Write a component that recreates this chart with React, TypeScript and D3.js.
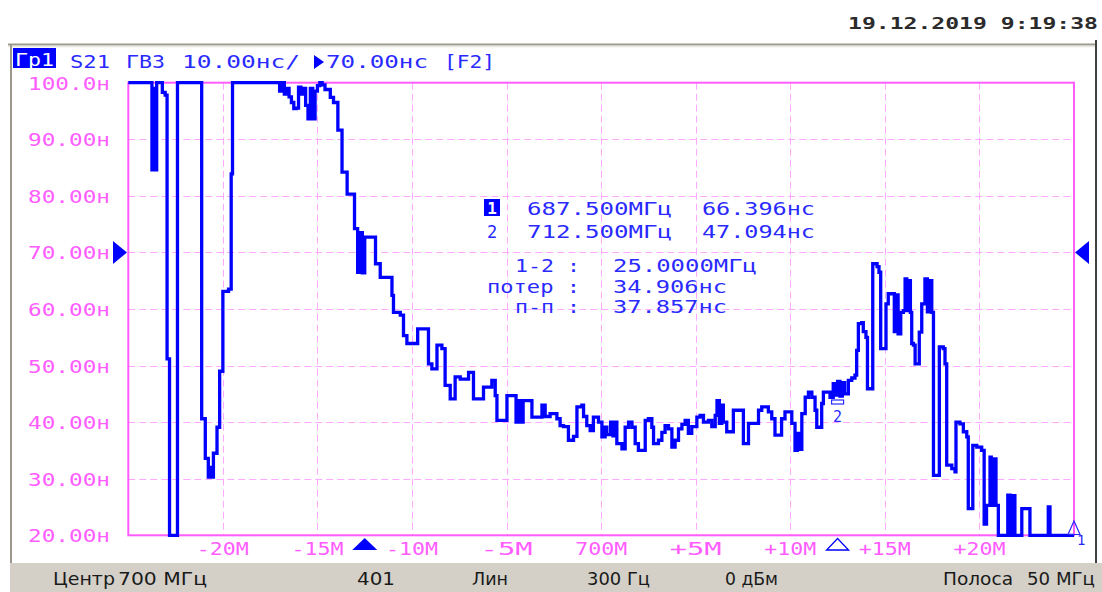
import { useEffect, useRef } from "react";
import * as d3 from "d3";

// Group delay axis (ns)
const yTicks = [100, 90, 80, 70, 60, 50, 40, 30, 20];
const yTickLabels = ["100.0н", "90.00н", "80.00н", "70.00н", "60.00н", "50.00н", "40.00н", "30.00н", "20.00н"];

// Frequency axis: offset from center (MHz)
const xTicks = [-20, -15, -10, -5, 0, 5, 10, 15, 20];
const xTickLabels = ["-20M", "-15M", "-10M", "-5M", "700M", "+5M", "+10M", "+15M", "+20M"];

// Markers 1 and 2
const markerOffsets = [-12.5, 12.5];
const markerValues = [66.396, 47.094];
const refLevel = 70;

// Marker readout lines
const readoutFreqs = ["687.500МГц", "712.500МГц"];
const readoutValues = ["66.396нс", "47.094нс"];
const statsLabels = ["1-2 :", "потер :", "п-п :"];
const statsValues = ["25.0000МГц", "34.906нс", "37.857нс"];

// Status bar
const statusTexts = ["Центр", "700 МГц", "401", "Лин", "300 Гц", "0 дБм", "Полоса", "50 МГц"];

// S21 group delay trace, step breakpoints [MHz offset, ns]
const tracePoints: [number, number][] = [
  [-25, 100], [-23.75, 84.6], [-23.67, 99], [-23.58, 84.6], [-23.5, 100], [-23.2, 98.3],
  [-23.05, 97.8], [-22.95, 51.2], [-22.82, 20], [-22.4, 100], [-21.12, 40.6], [-20.93, 33.6],
  [-20.77, 30.3], [-20.68, 32], [-20.6, 30.3], [-20.5, 34.5], [-20.31, 39.1], [-20.17, 49.0],
  [-20.0, 63.1], [-19.7, 63.5], [-19.56, 83.9], [-19.49, 100],
  [-17.0, 98.5], [-16.875, 100], [-16.75, 98.0], [-16.625, 99], [-16.5, 97.5], [-16.375, 96.5],
  [-16.25, 95.4], [-16.125, 95.5], [-16.0, 99.2], [-15.875, 98.0], [-15.75, 99], [-15.625, 96],
  [-15.5, 93.6], [-15.375, 99], [-15.25, 93.6], [-15.125, 98.5], [-15.0, 99.5], [-14.875, 100],
  [-14.75, 99.6], [-14.6, 98.8], [-14.32, 97.4], [-14.15, 96.5], [-13.92, 91.6], [-13.7, 84.2],
  [-13.43, 80.3], [-13.04, 74.2], [-12.875, 66.5], [-12.75, 73.5], [-12.625, 66.4], [-12.5, 72.7],
  [-11.93, 68], [-11.68, 65.6], [-11.06, 62.4], [-10.98, 59.4], [-10.62, 58.9], [-10.45, 55.3],
  [-10.27, 53.9], [-9.7, 56.5], [-9.13, 50.3], [-8.95, 49.4], [-8.68, 53.6], [-8.42, 53.0],
  [-8.25, 46.5], [-7.98, 44.1], [-7.72, 48.0], [-7.45, 47.6], [-7.01, 48.8], [-6.75, 44.1],
  [-6.22, 46.2], [-5.78, 47.4], [-5.6, 44.7], [-5.51, 40.3], [-4.98, 44.7], [-4.5, 40],
  [-4.375, 43.8], [-4.25, 40], [-4.125, 43.8], [-3.66, 40.9], [-3.13, 43.0], [-2.96, 41.0],
  [-2.7, 41.5], [-2.34, 40.6], [-2.17, 39.4], [-1.99, 39.2], [-1.73, 36.8], [-1.46, 37.5],
  [-1.28, 42.7], [-1.02, 43.0], [-0.93, 41.0], [-0.76, 39.4], [-0.58, 38.5], [-0.41, 40.9],
  [-0.14, 40.0], [0.04, 37.4], [0.21, 39.1], [0.3, 37.8], [0.5, 40], [0.625, 37.6],
  [0.75, 40], [0.83, 36.2], [1.1, 35.3], [1.27, 39.1], [1.45, 40.0], [1.63, 39.1],
  [1.8, 36.2], [1.97, 35.0], [2.33, 40.3], [2.5, 40.6], [2.68, 39.1], [2.77, 36.2],
  [3.03, 36.8], [3.21, 38.2], [3.38, 39.4], [3.56, 38.8], [3.74, 35.6], [3.91, 36.8],
  [4.09, 38.8], [4.27, 39.6], [4.44, 40.3], [4.61, 38.0], [4.79, 39.2], [5.06, 40.9],
  [5.23, 41.2], [5.41, 40.0], [5.67, 40.3], [5.85, 39.2], [6.03, 41.2], [6.125, 43.8],
  [6.25, 39.8], [6.375, 43.0], [6.46, 40.0], [6.64, 38.3], [6.99, 42.1], [7.52, 36.2],
  [7.79, 39.8], [8.32, 42.1], [8.49, 42.7], [8.84, 41.8], [9.02, 40.6], [9.19, 37.7],
  [9.54, 40.6], [9.72, 41.8], [10.08, 39.8], [10.25, 35.0], [10.375, 38.0], [10.5, 35.2],
  [10.61, 41.5], [10.79, 44.4], [10.96, 45.3], [11.14, 44.4], [11.31, 42.1], [11.4, 39.1],
  [11.66, 43.3], [11.75, 45.3], [12.1, 44.4], [12.27, 46.8], [12.375, 44.8], [12.5, 47.2],
  [12.625, 44.6], [12.75, 47.0], [12.875, 45.0], [13.07, 47.4], [13.25, 47.8], [13.42, 48.3],
  [13.51, 52.7], [13.6, 57.4], [13.78, 57.6], [13.86, 56.0], [14.0, 55.0], [14.08, 45.9],
  [14.36, 68.0], [14.59, 67.5], [14.69, 66.5], [14.78, 53.0], [15.06, 60.9], [15.18, 62.7],
  [15.5, 56], [15.625, 62.5], [15.7, 55.6], [15.84, 59.4], [15.98, 59.7], [16.07, 65.3],
  [16.16, 59.7], [16.25, 65.0], [16.35, 59.4], [16.42, 53.9], [16.51, 53.6], [16.6, 50.3],
  [16.82, 55.9], [16.95, 60.9], [17.12, 65.3], [17.25, 59.5], [17.375, 65.0], [17.48, 59.4],
  [17.57, 30.6], [17.88, 53.3], [18.09, 53.0], [18.18, 50.3], [18.27, 32.4], [18.54, 31.8],
  [18.71, 31.2], [18.76, 40.0], [18.97, 39.7], [19.15, 38.3], [19.33, 37.4], [19.41, 24.7],
  [19.65, 35.9], [19.86, 35.6], [20.12, 35.0], [20.25, 22], [20.375, 25.3], [20.56, 33.8],
  [20.625, 25.3], [20.75, 33.5], [20.875, 25.3], [21.0, 20], [21.5, 27.1], [21.625, 20],
  [21.75, 27], [21.875, 20], [22.24, 24.7], [22.67, 20], [23.64, 25.0], [23.73, 20],
  [25, 20],
];

const MONO = "'DejaVu Sans Mono', 'Liberation Mono', monospace";
const SANS = "'DejaVu Sans', 'Liberation Sans', sans-serif";

const App = () => {
  const svgRef = useRef<SVGSVGElement | null>(null);

  useEffect(() => {
    if (!svgRef.current) return;
    const width = 1102;
    const height = 592;
    const plot = { left: 128.3, right: 1074, top: 82.7, bottom: 535.3 };

    const svg = d3.select(svgRef.current).attr("width", width).attr("height", height);
    svg.selectAll("*").remove();

    const x = d3.scaleLinear().domain([-25, 25]).range([plot.left, plot.right]);
    const y = d3.scaleLinear().domain([20, 100]).range([plot.bottom, plot.top]);

    const pink = "#ff5cff";
    const blue = "#2a2aff";

    svg.append("rect").attr("width", width).attr("height", height).attr("fill", "#fff");

    // Window frame
    svg.append("line").attr("x1", 8).attr("x2", 1097).attr("y1", 44.5).attr("y2", 44.5)
      .attr("stroke", "#9c988c").attr("stroke-width", 2);
    svg.append("line").attr("x1", 8).attr("x2", 1097).attr("y1", 46.5).attr("y2", 46.5)
      .attr("stroke", "#e8e6de").attr("stroke-width", 1.5);
    svg.append("line").attr("x1", 11).attr("x2", 11).attr("y1", 44).attr("y2", 563)
      .attr("stroke", "#9c988c").attr("stroke-width", 2);
    svg.append("line").attr("x1", 1096).attr("x2", 1096).attr("y1", 40).attr("y2", 563)
      .attr("stroke", "#404040").attr("stroke-width", 2);

    // Status bar
    svg.append("rect").attr("x", 10).attr("y", 563).attr("width", width - 10).attr("height", height - 563)
      .attr("fill", "#d4d0c8");
    const statusPos = [[53, 62], [118, 89], [357, 38], [472, 36], [587, 63], [725, 53], [943, 70], [1027, 68]];
    svg.selectAll("text.status").data(statusTexts).enter().append("text")
      .attr("class", "status")
      .attr("x", (_d, i) => statusPos[i][0])
      .attr("y", 585)
      .attr("textLength", (_d, i) => statusPos[i][1])
      .attr("lengthAdjust", "spacingAndGlyphs")
      .attr("font-family", SANS).attr("font-size", 17).attr("fill", "#1a1a1a")
      .text((d) => d);

    // Date stamp
    svg.append("text").attr("x", 848).attr("y", 29).attr("textLength", 250)
      .attr("lengthAdjust", "spacingAndGlyphs")
      .attr("font-family", MONO).attr("font-size", 16).attr("font-weight", "bold").attr("fill", "#2b2b2b")
      .text("19.12.2019 9:19:38");

    // Header
    svg.append("rect").attr("x", 13).attr("y", 48).attr("width", 43).attr("height", 20).attr("fill", "#0000ff");
    svg.append("text").attr("x", 15).attr("y", 66).attr("textLength", 39)
      .attr("lengthAdjust", "spacingAndGlyphs")
      .attr("font-family", MONO).attr("font-size", 17).attr("fill", "#fff").text("Гр1");
    const header: [string, number, number][] = [
      ["S21", 70, 40], ["ГВЗ", 126, 39], ["10.00нс/", 182, 118], ["70.00нс", 326, 102], ["[F2]", 444, 51],
    ];
    header.forEach(([t, hx, len]) => {
      svg.append("text").attr("x", hx).attr("y", 68).attr("textLength", len)
        .attr("lengthAdjust", "spacingAndGlyphs")
        .attr("font-family", MONO).attr("font-size", 17).attr("fill", blue).text(t);
    });
    svg.append("path").attr("d", "M314,55 L314,69 L324,62 Z").attr("fill", "#0000ff");

    // Grid
    const grid = svg.append("g").attr("stroke", "#ffa8ff").attr("stroke-width", 1).attr("stroke-dasharray", "7,4");
    grid.selectAll("line.v").data(xTicks).enter().append("line")
      .attr("x1", (d) => Math.round(x(d)) + 0.5).attr("x2", (d) => Math.round(x(d)) + 0.5)
      .attr("y1", plot.top).attr("y2", plot.bottom);
    grid.selectAll("line.h").data(yTicks.slice(1, -1)).enter().append("line")
      .attr("x1", plot.left).attr("x2", plot.right)
      .attr("y1", (d) => Math.round(y(d)) + 0.5).attr("y2", (d) => Math.round(y(d)) + 0.5);

    svg.append("rect").attr("x", plot.left).attr("y", plot.top)
      .attr("width", plot.right - plot.left).attr("height", plot.bottom - plot.top)
      .attr("fill", "none").attr("stroke", pink).attr("stroke-width", 2);

    // Y labels
    svg.selectAll("text.ylab").data(yTicks).enter().append("text")
      .attr("x", 28).attr("y", (d) => y(d) + 7)
      .attr("textLength", 82).attr("lengthAdjust", "spacingAndGlyphs")
      .attr("font-family", MONO).attr("font-size", 17).attr("fill", pink)
      .text((_d, i) => yTickLabels[i]);

    // X labels
    svg.selectAll("text.xlab").data(xTicks).enter().append("text")
      .attr("x", (d) => x(d) - 26).attr("y", 555)
      .attr("textLength", 52).attr("lengthAdjust", "spacingAndGlyphs")
      .attr("font-family", MONO).attr("font-size", 17).attr("fill", pink)
      .text((_d, i) => xTickLabels[i]);

    // Reference level arrows
    const ry = y(refLevel);
    svg.append("path").attr("d", `M113,${ry - 11.5} L113,${ry + 11.5} L127,${ry} Z`).attr("fill", "#0000ff");
    svg.append("path").attr("d", `M1089,${ry - 11.5} L1089,${ry + 11.5} L1075,${ry} Z`).attr("fill", "#0000ff");

    // Trace
    const line = d3.line<[number, number]>()
      .x((d) => x(d[0]))
      .y((d) => y(d[1]))
      .curve(d3.curveStepAfter);
    svg.append("path").datum(tracePoints).attr("d", line)
      .attr("fill", "none").attr("stroke", "#0000ff").attr("stroke-width", 3.3)
      .attr("stroke-linejoin", "miter");

    // Marker 2 symbol on trace
    const m2x = x(markerOffsets[1]);
    const m2y = y(markerValues[1]) + 20;
    svg.append("rect").attr("x", m2x - 6).attr("y", m2y - 2).attr("width", 12).attr("height", 4)
      .attr("fill", "#fff").attr("stroke", blue).attr("stroke-width", 1.2);
    svg.append("text").attr("x", m2x).attr("y", m2y + 20).attr("text-anchor", "middle")
      .attr("font-family", MONO).attr("font-size", 15).attr("fill", blue).text("2");

    // Marker triangles on the frequency axis
    const m1x = x(markerOffsets[0]);
    svg.append("path").attr("d", `M${m1x - 12.5},550 L${m1x + 12.5},550 L${m1x},538 Z`).attr("fill", "#0000ff");
    svg.append("path").attr("d", `M${m2x - 11},550 L${m2x + 11},550 L${m2x},538.5 Z`)
      .attr("fill", "#fff").attr("stroke", "#0000ff").attr("stroke-width", 1.3);
    const ex = x(25);
    svg.append("path").attr("d", `M${ex - 6},534.5 L${ex + 6},534.5 L${ex},521 Z`)
      .attr("fill", "none").attr("stroke", blue).attr("stroke-width", 1.2);
    svg.append("text").attr("x", ex + 3).attr("y", 545).attr("font-family", MONO)
      .attr("font-size", 14).attr("fill", blue).text("1");

    // Marker readout
    svg.append("rect").attr("x", 484).attr("y", 199).attr("width", 16).attr("height", 17).attr("fill", "#0000ff");
    svg.append("text").attr("x", 492).attr("y", 214).attr("text-anchor", "middle")
      .attr("font-family", MONO).attr("font-size", 16).attr("font-weight", "bold").attr("fill", "#fff").text("1");
    svg.append("text").attr("x", 487).attr("y", 238).attr("font-family", MONO)
      .attr("font-size", 17).attr("fill", blue).text("2");
    readoutFreqs.forEach((f, i) => {
      const by = 215 + i * 23;
      svg.append("text").attr("x", 527).attr("y", by).attr("textLength", 145)
        .attr("lengthAdjust", "spacingAndGlyphs")
        .attr("font-family", MONO).attr("font-size", 17).attr("fill", blue).text(f);
      svg.append("text").attr("x", 702).attr("y", by).attr("textLength", 113)
        .attr("lengthAdjust", "spacingAndGlyphs")
        .attr("font-family", MONO).attr("font-size", 17).attr("fill", blue).text(readoutValues[i]);
    });
    const statsX = [[515, 65], [487, 93], [515, 65]];
    const statsLen = [144, 114, 114];
    statsLabels.forEach((lab, i) => {
      const by = 272 + i * 20.5;
      svg.append("text").attr("x", statsX[i][0]).attr("y", by).attr("textLength", statsX[i][1])
        .attr("lengthAdjust", "spacingAndGlyphs")
        .attr("font-family", MONO).attr("font-size", 17).attr("fill", blue).text(lab);
      svg.append("text").attr("x", 613).attr("y", by).attr("textLength", statsLen[i])
        .attr("lengthAdjust", "spacingAndGlyphs")
        .attr("font-family", MONO).attr("font-size", 17).attr("fill", blue).text(statsValues[i]);
    });
  }, []);

  return (
    <svg
      ref={svgRef}
      style={{ position: "absolute", left: 0, top: 0, display: "block" }}
    ></svg>
  );
};

export default App;
